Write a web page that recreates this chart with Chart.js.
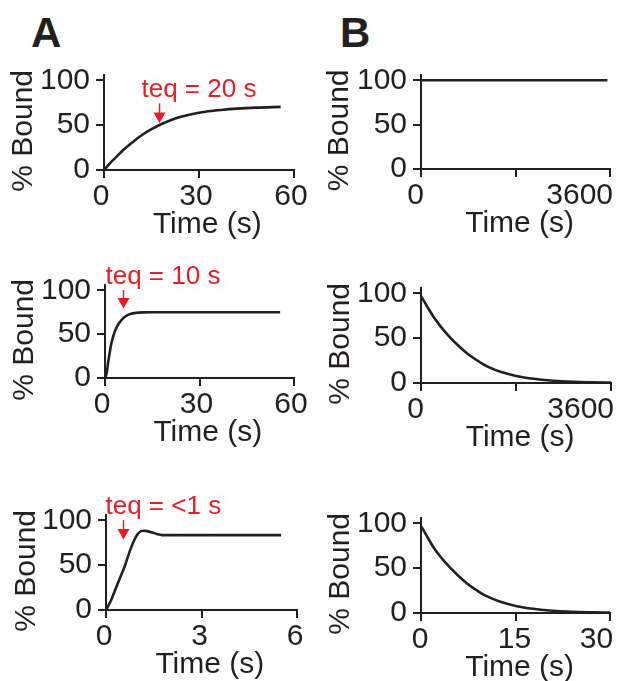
<!DOCTYPE html>
<html>
<head>
<meta charset="utf-8">
<script src="https://cdn.jsdelivr.net/npm/chart.js@4.4.1/dist/chart.umd.min.js"></script>
<style>
html,body{margin:0;padding:0;background:#fff;overflow:hidden;}
#wrap{position:relative;width:621px;height:681px;overflow:hidden;background:#fff;}
canvas{position:absolute;}
.lbl{position:absolute;font-family:"Liberation Sans",Arial,Helvetica,sans-serif;font-weight:bold;font-size:42px;line-height:42px;color:#231f20;}
</style>
</head>
<body>
<div id="wrap">
  <div class="lbl" style="left:31px;top:12px">A</div>
  <div class="lbl" style="left:340px;top:12px">B</div>
  <canvas id="a1"></canvas>
  <canvas id="a2"></canvas>
  <canvas id="a3"></canvas>
  <canvas id="b1"></canvas>
  <canvas id="b2"></canvas>
  <canvas id="b3"></canvas>
</div>
<script>
// ---------- DATA ----------
// Panel A (association)
const a1Time  = [0, 2, 4, 6, 9, 12, 15, 18, 21, 24, 28, 32, 37, 42, 48, 55.8];
const a1Bound = [0, 8, 15, 22, 31, 39, 45.5, 51, 55.5, 59, 62.5, 65, 67, 68.5, 69.6, 70.4];

const a2Time  = [0, 0.5, 1, 1.5, 2, 2.5, 3, 4, 5, 6, 7, 8, 10, 12, 15, 20, 55.6];
const a2Bound = [0, 5, 18, 29, 39, 46, 52, 60, 65, 69, 71.5, 73, 74.3, 74.8, 75, 75, 75];

const a3Time  = [0, 0.15, 0.3, 0.45, 0.6, 0.75, 0.9, 1.0, 1.1, 1.2, 1.3, 1.45, 1.6, 1.75, 2.5, 3.5, 4.5, 5.5];
const a3Bound = [0, 10, 23.5, 36.5, 50, 66, 79, 85, 88, 88.5, 88, 86.5, 84.8, 83.6, 83.6, 83.6, 83.6, 83.6];

// Panel B (dissociation)
const b1Time  = [0, 3550];
const b1Bound = [100, 100];

const b2Time  = [0, 120, 243, 400, 559, 720, 875, 1030, 1190, 1350, 1506, 1823, 2137, 2453, 2895, 3250, 3600];
const b2Bound = [97, 85, 73.4, 61, 50.4, 41, 33, 26.5, 20.6, 16, 12.5, 7.6, 4.7, 2.8, 1.3, 0.8, 0.5];

const b3Time  = [0, 1, 2, 3.3, 4.7, 6, 7.3, 8.6, 9.9, 11.3, 12.6, 15.2, 17.8, 20.4, 24.1, 27.1, 30];
const b3Bound = [97, 85, 73, 61, 50, 41, 33, 26.5, 20.5, 16, 12.5, 7.6, 4.7, 2.8, 1.3, 0.8, 0.5];

// Ticks
const yTicks = [0, 50, 100];
const yTickLabels = ["0", "50", "100"];
const xTicksA12 = [0, 30, 60];
const xTickLabelsA12 = ["0", "30", "60"];
const xTicksA3 = [0, 3, 6];
const xTickLabelsA3 = ["0", "3", "6"];
const xTicksB12 = [0, 1800, 3600];
const xTickLabelsB12 = ["0", "", "3600"];
const xTicksB3 = [0, 15, 30];
const xTickLabelsB3 = ["0", "15", "30"];
const yMax = 106;

// teq annotations (panel A)
const teqText = ["teq = 20 s", "teq = 10 s", "teq = <1 s"];
const teqTime = [17.4, 5.8, 0.545];
const teqArrowTip = [52.5, 79.3, 78.8];
const teqArrowTop = [74.3, 100.3, 100.3];

const xTitle = "Time (s)";
const yTitle = "% Bound";

// ---------- STYLE / LAYOUT ----------
const INK = '#231f20';
const RED = '#ec1c24';
const FAMILY = '"Liberation Sans", Arial, Helvetica, sans-serif';
Chart.defaults.font.family = FAMILY;

const teqPlugin = {
  id: 'teq',
  afterDatasetsDraw(chart, args, o) {
    if (!o || !o.text) return;
    const ctx = chart.ctx;
    const xs = chart.scales.x, ys = chart.scales.y;
    const px = Math.round(xs.getPixelForValue(o.time)) + 0.5;
    const tip = ys.getPixelForValue(o.tip);
    const top = ys.getPixelForValue(o.top);
    ctx.save();
    ctx.strokeStyle = RED; ctx.fillStyle = RED; ctx.lineWidth = 1.5;
    ctx.beginPath(); ctx.moveTo(px, top); ctx.lineTo(px, tip - 9); ctx.stroke();
    ctx.beginPath();
    ctx.moveTo(px - 6, tip - 10.5); ctx.lineTo(px + 6, tip - 10.5); ctx.lineTo(px, tip);
    ctx.closePath(); ctx.fill();
    ctx.font = '26px ' + FAMILY;
    ctx.textAlign = 'left'; ctx.textBaseline = 'alphabetic';
    ctx.fillText(o.text, px - 18, top - 6);
    ctx.restore();
  }
};

function panel(id, box, area, d) {
  const c = document.getElementById(id);
  c.width = box.w; c.height = box.h;
  c.style.left = box.x + 'px'; c.style.top = box.y + 'px';
  c.style.width = box.w + 'px'; c.style.height = box.h + 'px';
  const Wy = area.l - box.x;
  const Hx = 75;
  const padTop = area.t - box.y;
  const padRight = box.x + box.w - area.r;
  const padBottom = box.y + box.h - area.b - Hx;
  const yTitleTop = Wy - d.yTitleDx - 18;
  const font = {size: 30, family: FAMILY};
  const plugins = {legend: {display: false}, tooltip: {enabled: false}};
  if (d.teq) plugins.teq = d.teq;
  // small visual nudges of the centred axis titles (the reference sets them off-centre)
  const xTitleText = ' '.repeat(d.xTitleShift) + xTitle;
  const yTitleText = yTitle + '  ';
  new Chart(c, {
    type: 'line',
    data: {
      datasets: [{
        data: d.xs.map((x, i) => ({x: x, y: d.ys[i]})),
        borderColor: INK, borderWidth: 2.6, pointRadius: 0,
        cubicInterpolationMode: 'monotone', fill: false, clip: 8
      }]
    },
    options: {
      responsive: false, animation: false, devicePixelRatio: 1,
      events: [],
      layout: {padding: {left: 0, top: padTop, right: padRight, bottom: padBottom}},
      plugins: plugins,
      scales: {
        x: {
          type: 'linear', min: d.xTicks[0], max: d.xTicks[d.xTicks.length - 1],
          afterBuildTicks: s => { s.ticks = d.xTicks.map(v => ({value: v})); },
          afterFit: s => { s.height = Hx; s.paddingLeft = 0; s.paddingRight = 0; },
          grid: {drawOnChartArea: false, drawTicks: true, tickLength: 8, tickWidth: 2, tickColor: INK, lineWidth: 2, color: INK},
          border: {display: true, color: INK, width: 2},
          ticks: {
            font: font, color: INK, padding: 1, maxRotation: 0, autoSkip: false,
            align: d.xAlign, labelOffset: d.xLabelOffset,
            callback: (v, i) => d.xLabels[i] + (d.lastPad && i === d.xLabels.length - 1 ? ' '.repeat(d.lastPad) : '')
          },
          title: {display: true, text: xTitleText, font: font, color: INK, padding: {top: 0, bottom: 2}}
        },
        y: {
          type: 'linear', min: 0, max: yMax,
          afterBuildTicks: s => { s.ticks = yTicks.map(v => ({value: v})); },
          afterFit: s => { s.width = Wy; s.paddingTop = 0; s.paddingBottom = 0; },
          grid: {drawOnChartArea: false, drawTicks: true, tickLength: 8, tickWidth: 2, tickColor: INK, lineWidth: 2, color: INK},
          border: {display: true, color: INK, width: 2},
          ticks: {
            font: font, color: INK, padding: 6, autoSkip: false,
            callback: (v, i) => yTickLabels[i]
          },
          title: {display: true, text: yTitleText, font: font, color: INK, padding: {top: yTitleTop, bottom: 0}}
        }
      }
    },
    plugins: [teqPlugin]
  });
}

const L = {x: 0, w: 310}, R = {x: 310, w: 311};
const row1 = {y: 50, h: 200}, row2 = {y: 255, h: 205}, row3 = {y: 482, h: 215};

panel('a1', {x: L.x, w: L.w, y: row1.y, h: row1.h}, {l: 104, t: 75, r: 294, b: 170},
  {xs: a1Time, ys: a1Bound, xTicks: xTicksA12, xLabels: xTickLabelsA12, xAlign: 'center', xLabelOffset: -3, yTitleDx: 80, xTitleShift: 2,
   teq: {text: teqText[0], time: teqTime[0], tip: teqArrowTip[0], top: teqArrowTop[0]}});
panel('a2', {x: L.x, w: L.w, y: row2.y, h: row2.h}, {l: 105, t: 285, r: 294, b: 378},
  {xs: a2Time, ys: a2Bound, xTicks: xTicksA12, xLabels: xTickLabelsA12, xAlign: 'center', xLabelOffset: -3, yTitleDx: 80, xTitleShift: 2,
   teq: {text: teqText[1], time: teqTime[1], tip: teqArrowTip[1], top: teqArrowTop[1]}});
panel('a3', {x: L.x, w: L.w, y: row3.y, h: row3.h}, {l: 106, t: 515, r: 297, b: 610},
  {xs: a3Time, ys: a3Bound, xTicks: xTicksA3, xLabels: xTickLabelsA3, xAlign: 'center', xLabelOffset: -2, yTitleDx: 79, xTitleShift: 2,
   teq: {text: teqText[2], time: teqTime[2], tip: teqArrowTip[2], top: teqArrowTop[2]}});
panel('b1', {x: R.x, w: R.w, y: row1.y, h: row1.h}, {l: 421, t: 75, r: 610, b: 169},
  {xs: b1Time, ys: b1Bound, xTicks: xTicksB12, xLabels: xTickLabelsB12, xAlign: 'end', xLabelOffset: 3, yTitleDx: 81, xTitleShift: 1});
panel('b2', {x: R.x, w: R.w, y: row2.y, h: row2.h}, {l: 421, t: 288, r: 611, b: 383},
  {xs: b2Time, ys: b2Bound, xTicks: xTicksB12, xLabels: xTickLabelsB12, xAlign: 'end', xLabelOffset: 3, yTitleDx: 80, xTitleShift: 1});
panel('b3', {x: R.x, w: R.w, y: row3.y, h: row3.h}, {l: 421, t: 518, r: 610, b: 613},
  {xs: b3Time, ys: b3Bound, xTicks: xTicksB3, xLabels: xTickLabelsB3, xAlign: 'center', xLabelOffset: -1, lastPad: 3, yTitleDx: 80, xTitleShift: 1});
</script>
</body>
</html>
